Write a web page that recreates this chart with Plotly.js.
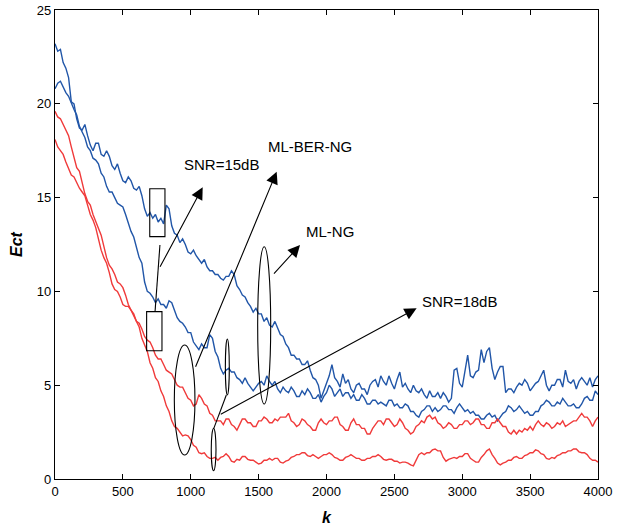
<!DOCTYPE html>
<html>
<head>
<meta charset="utf-8">
<script src="https://cdn.plot.ly/plotly-3.0.1.min.js"></script>
<style>html,body{margin:0;padding:0;background:#fff;}#chart{width:621px;height:526px;}</style>
</head>
<body>
<div id="chart"></div>
<script>
// iteration index k (step 20)
const K = [
0,20,40,60,80,100,120,140,160,180,200,220,240,260,280,300,320,340,360,380,
400,420,440,460,480,500,520,540,560,580,600,620,640,660,680,700,720,740,760,780,
800,820,840,860,880,900,920,940,960,980,1000,1020,1040,1060,1080,1100,1120,1140,1160,1180,
1200,1220,1240,1260,1280,1300,1320,1340,1360,1380,1400,1420,1440,1460,1480,1500,1520,1540,1560,1580,
1600,1620,1640,1660,1680,1700,1720,1740,1760,1780,1800,1820,1840,1860,1880,1900,1920,1940,1960,1980,
2000,2020,2040,2060,2080,2100,2120,2140,2160,2180,2200,2220,2240,2260,2280,2300,2320,2340,2360,2380,
2400,2420,2440,2460,2480,2500,2520,2540,2560,2580,2600,2620,2640,2660,2680,2700,2720,2740,2760,2780,
2800,2820,2840,2860,2880,2900,2920,2940,2960,2980,3000,3020,3040,3060,3080,3100,3120,3140,3160,3180,
3200,3220,3240,3260,3280,3300,3320,3340,3360,3380,3400,3420,3440,3460,3480,3500,3520,3540,3560,3580,
3600,3620,3640,3660,3680,3700,3720,3740,3760,3780,3800,3820,3840,3860,3880,3900,3920,3940,3960,3980,
4000];

// blue curves (SNR=15dB)
const blueUpper = [
23.2,22.8,22.9,22.2,21.9,21.4,20.1,20.0,19.2,18.7,18.6,18.9,18.3,17.8,17.5,17.9,17.9,17.3,17.2,17.5,
17.2,16.7,16.5,16.8,16.3,15.9,15.8,16.1,15.9,15.5,15.4,15.6,15.1,14.4,14.0,14.2,13.9,14.1,13.7,13.9,
13.6,14.6,14.4,13.5,13.1,13.0,12.6,12.8,12.5,12.1,12.0,12.2,11.9,11.7,11.5,11.7,11.3,11.1,11.1,10.9,
10.9,10.7,10.6,10.8,10.8,11.1,10.9,10.3,10.1,9.8,9.7,9.4,9.2,8.9,9.1,8.8,8.8,8.4,8.6,8.2,
8.1,8.4,8.0,7.7,7.6,7.2,7.0,6.6,6.6,6.4,6.4,6.1,6.1,6.3,5.8,5.4,5.3,5.0,4.3,4.7,
5.1,5.5,6.1,5.4,5.2,4.9,5.6,5.1,5.3,4.8,4.6,5.0,5.1,4.8,4.8,4.5,5.0,5.2,5.3,4.9,
5.5,5.2,5.0,5.5,5.1,4.8,5.3,5.7,4.9,5.1,4.8,4.6,5.0,4.7,4.6,4.8,4.5,4.3,4.7,4.4,
4.4,4.6,4.3,4.6,4.4,4.1,4.3,5.8,5.9,5.1,4.9,5.7,6.6,5.5,5.4,5.7,5.8,6.9,6.2,6.8,
7.0,5.9,5.3,5.7,6.0,6.0,4.6,4.8,4.8,4.6,4.9,5.1,5.0,5.3,5.1,4.7,4.9,5.1,5.2,5.5,
5.8,5.0,4.7,5.0,5.0,5.3,5.3,4.9,5.8,5.2,5.1,5.3,4.8,5.2,5.4,5.2,5.0,5.4,4.9,5.3,
5.5];
const blueLower = [
20.8,21.1,21.2,20.9,20.6,20.4,20.0,19.7,19.4,18.8,18.5,18.2,17.7,17.5,17.1,17.0,16.8,16.3,16.1,15.6,
15.3,15.3,15.0,14.7,14.6,14.5,14.1,13.6,13.2,12.9,12.3,11.8,11.5,10.5,10.0,9.9,9.7,9.4,9.6,9.3,
9.3,9.1,9.5,9.4,9.0,8.6,8.4,8.3,8.1,7.8,7.8,7.3,7.1,6.9,7.2,7.0,7.0,7.7,7.5,6.8,
6.5,5.9,5.6,5.8,5.9,5.7,5.7,5.4,5.3,5.1,5.4,5.1,4.9,4.7,4.9,5.1,5.2,5.0,5.5,5.2,
5.0,5.2,4.8,4.6,4.9,4.7,4.6,4.9,4.7,4.4,4.4,4.7,4.5,4.8,4.6,4.3,4.3,4.5,4.1,4.4,
4.6,5.0,4.8,4.4,4.6,4.8,4.4,4.6,4.6,4.3,4.5,4.2,4.2,4.5,4.3,4.0,4.0,4.2,4.2,4.0,
4.1,4.0,3.9,4.2,4.2,3.9,4.0,3.8,3.8,4.0,3.9,3.6,3.6,3.4,3.3,3.6,3.7,3.9,3.9,3.6,
3.8,3.6,3.7,3.9,3.9,3.7,3.7,3.5,3.8,4.0,3.8,3.6,3.7,3.5,3.6,3.4,3.4,3.2,3.2,3.4,
3.5,3.3,3.4,3.1,3.3,3.5,3.6,3.9,3.8,3.6,3.7,3.9,3.7,3.5,3.6,3.4,3.4,3.6,3.6,3.9,
4.0,4.2,4.1,3.9,3.9,4.1,4.0,4.3,4.1,3.9,3.9,4.0,3.8,3.8,4.0,4.3,4.4,4.2,4.2,4.7,
4.5];

// red curves (SNR=18dB)
const redUpper = [
19.6,19.3,19.2,18.9,18.6,18.3,17.7,17.1,16.6,16.4,15.8,15.2,14.8,14.6,14.1,13.7,13.4,13.0,12.4,11.8,
11.4,11.2,10.9,10.5,10.4,10.2,9.8,9.3,9.0,8.8,8.4,8.3,8.0,7.6,7.4,7.3,7.0,6.6,6.4,6.4,
6.1,5.8,5.7,5.6,5.3,5.0,4.9,4.9,4.6,4.3,4.2,3.9,4.0,4.5,4.3,4.0,3.9,3.5,3.4,3.1,
3.1,3.1,2.9,3.2,3.2,2.9,2.8,2.6,2.9,3.2,3.2,3.0,3.0,2.8,2.8,3.1,3.1,3.3,3.2,3.0,
3.0,3.2,3.1,3.3,3.3,3.3,3.5,3.1,3.0,2.8,2.9,3.2,3.1,2.9,2.8,2.6,2.6,3.0,3.2,3.0,
2.9,3.1,3.1,3.3,3.3,2.9,2.8,2.6,2.6,3.0,3.2,2.9,2.9,2.7,2.7,2.4,2.4,2.7,2.9,3.1,
3.1,2.9,3.2,3.2,3.0,2.8,2.9,3.2,3.0,2.7,2.6,2.4,2.5,2.8,2.9,3.1,3.0,3.3,3.4,3.2,
3.3,3.0,2.9,2.7,2.8,3.0,2.9,2.7,2.7,2.9,2.9,3.1,3.1,2.9,3.0,3.2,3.2,2.9,2.9,2.7,
2.7,3.0,3.0,3.2,3.0,2.8,2.8,2.5,2.4,2.6,2.4,2.6,2.5,2.7,2.6,2.8,2.6,2.9,3.1,2.9,
2.8,3.0,2.9,2.7,2.8,3.0,2.9,3.1,2.8,2.9,3.0,3.1,3.1,3.3,3.5,3.3,3.3,3.1,2.8,3.1,
3.3];
const redLower = [
18.1,17.7,17.5,17.3,16.9,16.5,16.2,16.1,15.8,15.5,15.3,15.1,14.6,14.1,13.8,13.4,12.8,12.2,11.8,11.5,
11.0,10.4,10.1,10.0,9.7,9.3,9.2,9.2,9.0,8.7,8.4,8.1,7.5,7.1,6.8,6.2,5.9,5.4,5.2,4.7,
4.4,3.9,3.6,3.1,2.8,2.7,2.5,2.3,2.35,2.3,2.1,1.8,1.7,1.4,1.35,1.4,1.2,1.1,1.1,1.15,
1.0,1.15,1.2,1.35,1.2,0.95,0.9,1.05,1.0,1.2,1.2,1.05,1.0,1.0,0.9,0.8,0.85,1.0,1.0,1.1,
1.0,1.1,1.1,0.9,0.85,0.95,1.0,1.15,1.2,1.3,1.3,1.4,1.4,1.25,1.2,1.3,1.2,1.1,1.2,1.3,
1.3,1.4,1.3,1.15,1.1,1.0,1.0,1.15,1.2,1.3,1.2,1.1,1.1,1.0,1.0,1.1,1.1,1.2,1.2,1.3,
1.2,1.05,1.0,1.05,1.05,0.95,0.95,0.85,0.9,0.9,0.85,0.75,0.7,1.05,1.3,1.4,1.3,1.4,1.4,1.55,
1.6,1.5,1.5,1.15,0.95,1.05,1.1,1.15,1.1,1.2,1.2,1.35,1.35,1.1,1.0,0.9,0.9,1.15,1.3,1.5,
1.6,1.3,1.1,0.85,0.75,0.85,0.9,1.0,1.0,1.15,1.2,1.1,1.1,1.25,1.3,1.4,1.4,1.55,1.5,1.35,
1.3,1.1,1.05,1.15,1.1,1.25,1.3,1.4,1.4,1.5,1.5,1.6,1.6,1.45,1.4,1.4,1.3,1.1,1.0,1.0,
0.9];

const xTicks = [0,500,1000,1500,2000,2500,3000,3500,4000];
const yTicks = [0,5,10,15,20,25];

const BLUE = '#2156a8', RED = '#f03a3a';
function tr(y, c){ return {x:K, y:y, type:'scatter', mode:'lines', line:{color:c, width:1.4}, showlegend:false, hoverinfo:'skip'}; }
const data = [tr(blueUpper,BLUE), tr(blueLower,BLUE), tr(redUpper,RED), tr(redLower,RED)];

const ln = {color:'#000', width:1.1};
const shapes = [
  {type:'rect', xref:'x', yref:'y', x0:698, x1:810, y0:12.92, y1:15.47, line:ln},
  {type:'rect', xref:'x', yref:'y', x0:675, x1:788, y0:6.84, y1:8.92, line:ln},
  {type:'line', xref:'x', yref:'y', x0:737, y0:8.92, x1:773, y1:12.47, line:ln},
  {type:'circle', xref:'x', yref:'y', x0:879, x1:1031, y0:1.28, y1:7.14, line:ln},
  {type:'circle', xref:'x', yref:'y', x0:1255, x1:1284, y0:4.48, y1:7.46, line:ln},
  {type:'circle', xref:'x', yref:'y', x0:1493, x1:1589, y0:4.0, y1:12.38, line:ln},
  {type:'circle', xref:'x', yref:'y', x0:1151, x1:1186, y0:0.44, y1:2.7, line:ln},
  {type:'line', xref:'x', yref:'y', x0:1170, y0:2.7, x1:1262, y1:4.48, line:ln}
];

function arrow(tx, ty, hx, hy){
  return {x:hx, y:hy, ax:tx, ay:ty, xref:'x', yref:'y', axref:'x', ayref:'y', text:'', showarrow:true,
    arrowhead:2, arrowsize:2.2, arrowwidth:1.1, arrowcolor:'#000', standoff:0, startstandoff:0};
}
function label(t, x, y){
  return {x:x, y:y, xref:'x', yref:'y', text:t, showarrow:false, font:{family:'Arial, Liberation Sans, sans-serif', size:15, color:'#000'}};
}
const annotations = [
  arrow(768, 11.23, 1088, 15.55),
  arrow(1031, 5.9, 1633, 16.38),
  arrow(1603, 10.87, 1805, 12.47),
  arrow(1210, 3.41, 2664, 9.1),
  label('SNR=15dB', 1223, 16.74),
  label('ML-BER-NG', 1878, 17.71),
  label('ML-NG', 2026, 13.17),
  label('SNR=18dB', 2983, 9.45)
];

const axisCommon = {showgrid:false, zeroline:false, showline:true, linecolor:'#000', linewidth:1.2,
  mirror:'ticks', ticks:'inside', ticklen:5, tickwidth:1, tickcolor:'#000',
  tickfont:{family:'Arial, Liberation Sans, sans-serif', size:13, color:'#000'}};

const layout = {
  width:621, height:526,
  margin:{l:55, r:23, t:10, b:47},
  paper_bgcolor:'#fff', plot_bgcolor:'#fff',
  xaxis: Object.assign({}, axisCommon, {range:[0,4000], tickvals:xTicks, ticktext:xTicks.map(String),
    title:{text:'<b><i>k</i></b>', font:{family:'Arial, Liberation Sans, sans-serif', size:16, color:'#000'}, standoff:14}}),
  yaxis: Object.assign({}, axisCommon, {range:[0,25], tickvals:yTicks, ticktext:yTicks.map(String),
    title:{text:'<b><i>Ect</i></b>', font:{family:'Arial, Liberation Sans, sans-serif', size:16, color:'#000'}, standoff:10}}),
  shapes:shapes,
  annotations:annotations
};

Plotly.newPlot('chart', data, layout, {displayModeBar:false, staticPlot:true});
</script>
</body>
</html>
